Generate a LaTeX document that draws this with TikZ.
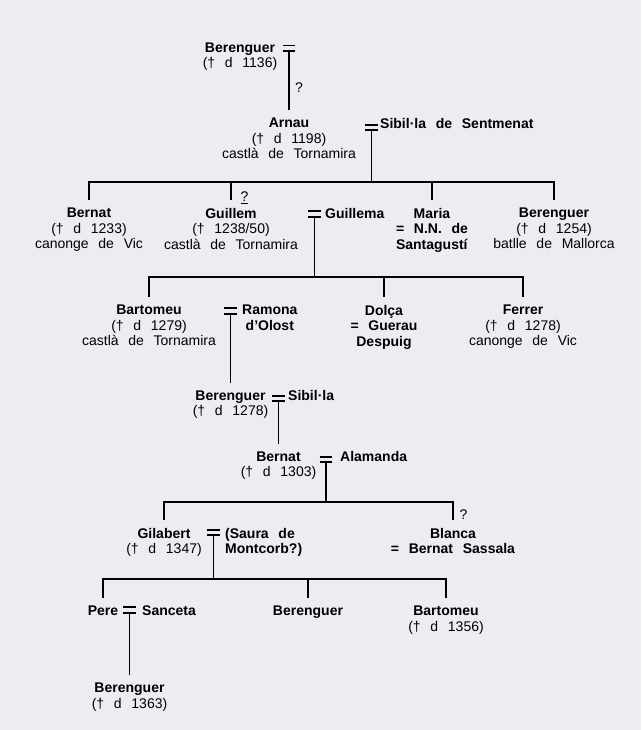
\documentclass[tikz,border=0pt]{standalone}
\usepackage{fontspec}
\setmainfont{Liberation Sans}[WordSpace=2.5]
\definecolor{paper}{RGB}{236,236,242}

\begin{document}
\begin{tikzpicture}[x=1pt, y=-1pt,
    person/.style ={align=center, anchor=north, inner xsep=0pt, inner ysep=8pt,
                    font=\fontsize{14}{15.5}\selectfont},
    spouse/.style ={align=center, anchor=north west, inner sep=0pt,
                    font=\fontsize{14}{15.5}\selectfont\bfseries},
    wed/.style ={minimum width=12pt, minimum height=5pt, inner sep=0pt},
    link/.style ={line width=1.8pt},
    query/.style ={inner sep=0pt, font=\fontsize{14}{15.5}\selectfont}]
   \fill[paper] (0,0) rectangle (641,730);

   % Berenguer and Arnau
   \node[person] (berengA) at (240,34.5) {\textbf{Berenguer}\\(† d 1136)};
   \node[wed] (wA) at (289,48.2) {};
   \node[query, anchor=west] (qA) at (295,88) {?};
   \node[person] (arnau) at (289,110) {\textbf{Arnau}\\(† d 1198)\\castlà de Tornamira};
   \node[wed] (wB) at (371.5,127.5) {};
   \node[spouse] (sibilA) at (380,118) {Sibil·la de Sentmenat};

   % children of Arnau
   \coordinate (kB) at (371.5,182);
   \node[person] (bernatA) at (89,200) {\textbf{Bernat}\\(† d 1233)\\canonge de Vic};
   \node[person] (guillem) at (231,200) {\textbf{Guillem}\\(† 1238/50)\\castlà de Tornamira};
   \node[query] (qC) at (244.5,198) {\underline{?}};
   \node[wed] (wC) at (314.5,214) {};
   \node[spouse] (guillema) at (325,208) {Guillema};
   \node[person] (maria) at (432,200) {\textbf{Maria}\\\textbf{= N.N. de}\\\textbf{Santagustí}};
   \node[person] (berengB) at (554,200) {\textbf{Berenguer}\\(† d 1254)\\batlle de Mallorca};

   % children of Guillem
   \coordinate (kC) at (314.5,277);
   \node[person] (bartomA) at (149,297) {\textbf{Bartomeu}\\(† d 1279)\\castlà de Tornamira};
   \node[wed] (wD) at (230.5,311) {};
   \node[spouse] (ramona) at (242,305) {Ramona\\d’Olost};
   \node[person] (dolca) at (384,297) {\textbf{Dolça}\\\textbf{= Guerau}\\\textbf{Despuig}};
   \node[person] (ferrer) at (523,297) {\textbf{Ferrer}\\(† d 1278)\\canonge de Vic};

   % Berenguer, Bernat
   \node[person] (berengC) at (230.5,382.5) {\textbf{Berenguer}\\(† d 1278)};
   \node[wed] (wE) at (278.5,398.5) {};
   \node[spouse] (sibilB) at (288,390.6) {Sibil·la};
   \node[person] (bernatB) at (278.5,443.5) {\textbf{Bernat}\\(† d 1303)};
   \node[wed] (wF) at (326,459.5) {};
   \node[spouse] (alamanda) at (340,451.6) {Alamanda};

   % children of Bernat
   \coordinate (kF) at (326,502);
   \node[person] (gilabert) at (164,520) {\textbf{Gilabert}\\(† d 1347)};
   \node[wed] (wG) at (213.5,532.5) {};
   \node[spouse, align=left] (saura) at (225,528) {(Saura de\\Montcorb?)};
   \node[query] (qF) at (463.5,515) {?};
   \node[person] (blanca) at (453,520) {\textbf{Blanca}\\\textbf{= Bernat Sassala}};

   % children of Gilabert
   \coordinate (kG) at (213.5,579);
   \node[person] (pere) at (103,598) {\textbf{Pere}};
   \node[wed] (wH) at (129.5,610) {};
   \node[spouse] (sanceta) at (142,606) {Sanceta};
   \node[person] (berengD) at (308,598) {\textbf{Berenguer}};
   \node[person] (bartomB) at (446,598) {\textbf{Bartomeu}\\(† d 1356)};
   \node[person] (berengE) at (129.5,675) {\textbf{Berenguer}\\(† d 1363)};

   \foreach \w in {wA,wB,wC,wD,wE,wF,wG,wH}
      \draw[link] (\w.north west) -- (\w.north east) (\w.south west) -- (\w.south east);

   \draw[link] (wA.south) to (arnau.north);
   \draw[link] (wD.south) to (berengC.north);
   \draw[link] (wE.south) to (bernatB.north);
   \draw[link] (wH.south) to (berengE.north);

   \draw[link] (wB.south) to (kB);
   \draw[link] (bernatA.north) |- (kB) -| (berengB.north);
   \foreach \c in {guillem,maria}
      \draw[link] (\c.north) to (\c.north |- kB);

   \draw[link] (wC.south) to (kC);
   \draw[link] (bartomA.north) |- (kC) -| (ferrer.north);
   \draw[link] (dolca.north) to (dolca.north |- kC);

   \draw[link] (wF.south) to (kF);
   \draw[link] (gilabert.north) |- (kF) -| (blanca.north);

   \draw[link] (wG.south) to (kG);
   \draw[link] (pere.north) |- (kG) -| (bartomB.north);
   \draw[link] (berengD.north) to (berengD.north |- kG);
 \end{tikzpicture}
\end{document}
